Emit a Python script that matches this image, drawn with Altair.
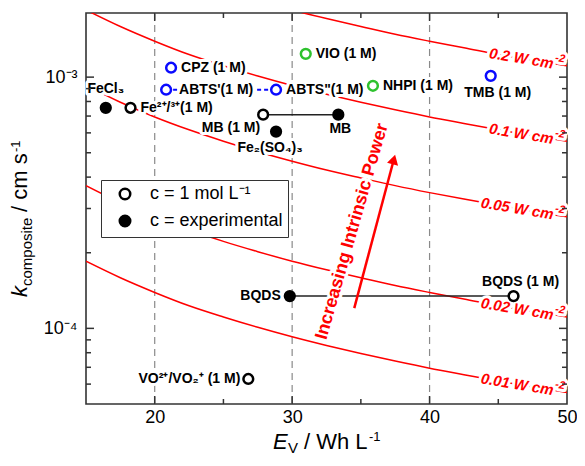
import altair as alt
import pandas as pd

# ---------------- data ----------------
# iso-power curves: k (cm/s) at these E_V values
E_grid = [15, 17.5, 20, 22.5, 25, 27.5, 30, 32.5, 35, 37.5, 40, 42.5, 45, 47.5, 50]
curve_P = ["0.01", "0.02", "0.05", "0.1", "0.2"]
k_001 = [1.85e-4, 1.59e-4, 1.39e-4, 1.23e-4, 1.11e-4, 1.01e-4, 9.26e-5, 8.55e-5, 7.94e-5, 7.41e-5, 6.94e-5, 6.54e-5, 6.17e-5, 5.85e-5, 5.56e-5]
k_002 = [3.70e-4, 3.17e-4, 2.78e-4, 2.47e-4, 2.22e-4, 2.02e-4, 1.85e-4, 1.71e-4, 1.59e-4, 1.48e-4, 1.39e-4, 1.31e-4, 1.23e-4, 1.17e-4, 1.11e-4]
k_005 = [9.26e-4, 7.94e-4, 6.94e-4, 6.17e-4, 5.56e-4, 5.05e-4, 4.63e-4, 4.27e-4, 3.97e-4, 3.70e-4, 3.47e-4, 3.27e-4, 3.09e-4, 2.92e-4, 2.78e-4]
k_010 = [1.85e-3, 1.59e-3, 1.39e-3, 1.23e-3, 1.11e-3, 1.01e-3, 9.26e-4, 8.55e-4, 7.94e-4, 7.41e-4, 6.94e-4, 6.54e-4, 6.17e-4, 5.85e-4, 5.56e-4]
k_020 = [3.70e-3, 3.17e-3, 2.78e-3, 2.47e-3, 2.22e-3, 2.02e-3, 1.85e-3, 1.71e-3, 1.59e-3, 1.48e-3, 1.39e-3, 1.31e-3, 1.23e-3, 1.17e-3, 1.11e-3]
curve_k = [k_001, k_002, k_005, k_010, k_020]
curve_label_text = ["0.01 W cm", "0.02 W cm", "0.05 W cm", "0.1 W cm", "0.2 W cm"]
curve_label_sup = ["-2", "-2", "-2", "-2", "-2"]
curve_label_E = [47.0, 47.0, 47.0, 47.0, 47.0]
curve_label_k = [5.91e-5, 1.18e-4, 2.96e-4, 5.91e-4, 1.18e-3]

# electrolytes
names = ["FeCl3", "Fe2+/3+", "CPZ", "ABTS'", "ABTS''", "MB (1 M)", "MB", "Fe2(SO4)3",
         "VIO", "NHPI", "TMB", "BQDS", "BQDS (1 M)", "VO"]
E_vals = [16.44, 18.24, 21.19, 20.83, 28.83, 27.89, 33.36, 28.83, 30.99, 35.88, 44.45, 29.83, 46.11, 26.81]
k_vals = [7.55e-4, 7.55e-4, 1.09e-3, 8.91e-4, 8.91e-4, 7.09e-4, 7.09e-4, 6.07e-4,
          1.238e-3, 9.24e-4, 1.012e-3, 1.344e-4, 1.344e-4, 6.29e-5]
conc = ["exp", "1M", "1M", "1M", "1M", "1M", "exp", "exp", "1M", "1M", "1M", "exp", "1M", "1M"]
group = ["black", "black", "blue", "blue", "blue", "black", "black", "black",
         "green", "green", "blue", "black", "black", "black"]
labels = ["FeCl₃", "Fe²⁺/³⁺(1 M)", "CPZ (1 M)", "ABTS'(1 M)", 'ABTS"(1 M)', "MB (1 M)", "MB",
          "Fe₂(SO₄)₃", "VIO (1 M)", "NHPI (1 M)", "TMB (1 M)", "BQDS", "BQDS (1 M)", "VO²⁺/VO₂⁺ (1 M)"]
black_pairs = [(5, 6), (11, 12)]
dashed_pairs = [(3, 4)]

legend_names = {"1M": "c = 1 mol L⁻¹", "exp": "c = experimental"}

arrow_E = [34.52, 37.40]
arrow_k = [1.204e-4, 4.70e-4]
arrow_text = "Increasing Intrinsic Power"
arrow_text_E = [34.37]
arrow_text_k = [2.43e-4]

grid_E = [20, 30, 40]
x_major = [20, 30, 40]
x_minor = [25, 35, 45]
y_major = [1e-4, 1e-3]
y_minor = [6e-5, 7e-5, 8e-5, 9e-5, 2e-4, 3e-4, 4e-4, 5e-4, 6e-4, 7e-4, 8e-4, 9e-4]

# ---------------- styles ----------------
W, H = 481, 391
FONT = "Liberation Sans"
RED = "#ff0000"
colmap = {"black": "#000000", "blue": "#0a0aff", "green": "#2ec22e"}
# label offsets (dx, dy, align)
label_style = [(0, -19, "center"), (10, 0, "left"), (10, 0, "left"), (13, 0, "left"), (10, 0, "left"),
               (-3, 13, "right"), (2, 14, "center"), (-6, 16, "center"), (10, 0, "left"),
               (10, 0, "left"), (7, 17, "center"), (-9, 0, "right"), (7, -14, "center"), (-8, 0, "right")]

xs = alt.Scale(domain=[15, 50], nice=False, zero=False)
ys = alt.Scale(type="log", domain=[5e-5, 1.8e-3], nice=False)
xax = alt.Axis(values=[20, 30, 40, 50], title=None, grid=False, ticks=False, tickSize=0, domain=False,
               labelFontSize=18, labelPadding=4, labelColor="black", labelFont=FONT, labelFlush=False)
yax = alt.Axis(values=[1e-4, 1e-3], labelExpr="datum.value < 3e-4 ? '10⁻⁴' : '10⁻³'", title=None,
               grid=False, ticks=False, tickSize=0, domain=False, labelFontSize=18, labelPadding=9,
               labelColor="black", labelFont=FONT)


def X(f):
    return alt.X(f, type="quantitative", scale=xs, axis=xax)


def Y(f):
    return alt.Y(f, type="quantitative", scale=ys, axis=yax)


layers = []

# dashed vertical grid
layers.append(alt.Chart(pd.DataFrame({"E": grid_E})).mark_rule(
    color="#8a8a8a", strokeDash=[7, 5], strokeWidth=1.2).encode(x=X("E")))

# iso-power curves
rows = []
for p, ks in zip(curve_P, curve_k):
    for e, k in zip(E_grid, ks):
        rows.append({"P": p, "E": e, "k": k})
layers.append(alt.Chart(pd.DataFrame(rows)).mark_line(
    color=RED, strokeWidth=1.5, interpolate="monotone", clip=True).encode(
    x=X("E"), y=Y("k"), detail="P:N", order="E:Q"))

# connecting lines
rows = []
for i, (a, b) in enumerate(black_pairs):
    for j in (a, b):
        rows.append({"pair": i, "E": E_vals[j], "k": k_vals[j]})
layers.append(alt.Chart(pd.DataFrame(rows)).mark_line(color="#222222", strokeWidth=1.5).encode(
    x=X("E"), y=Y("k"), detail="pair:N"))
rows = []
for i, (a, b) in enumerate(dashed_pairs):
    for j in (a, b):
        rows.append({"pair": i, "E": E_vals[j], "k": k_vals[j]})
layers.append(alt.Chart(pd.DataFrame(rows)).mark_line(color=colmap["blue"], strokeWidth=2.2,
                                                      strokeDash=[4, 3]).encode(
    x=X("E"), y=Y("k"), detail="pair:N"))

# arrow shaft
layers.append(alt.Chart(pd.DataFrame({"E": arrow_E, "k": arrow_k})).mark_line(
    color=RED, strokeWidth=2.5).encode(x=X("E"), y=Y("k")))

# text layers (halo first, then text)
text_specs = []
for i in range(len(names)):
    dx, dy, al = label_style[i]
    df = pd.DataFrame({"E": [E_vals[i]], "k": [k_vals[i]], "t": [labels[i]]})
    text_specs.append((df, dict(dx=dx, dy=dy, align=al, baseline="middle", fontSize=14,
                                fontWeight="bold", font=FONT), "black"))
cl = pd.DataFrame({"E": curve_label_E, "k": curve_label_k, "t": curve_label_text})
text_specs.append((cl, dict(angle=9.5, align="right", dx=28, baseline="middle", fontSize=15,
                            fontWeight="bold", fontStyle="italic", font=FONT), RED))
cs = pd.DataFrame({"E": curve_label_E, "k": curve_label_k, "t": curve_label_sup})
text_specs.append((cs, dict(angle=9.5, align="left", dx=29, dy=-6, baseline="middle", fontSize=11,
                            fontWeight="bold", fontStyle="italic", font=FONT), RED))
at = pd.DataFrame({"E": arrow_text_E, "k": arrow_text_k, "t": [arrow_text]})
text_specs.append((at, dict(angle=286, align="center", baseline="middle", fontSize=18,
                            fontWeight="bold", font=FONT), RED))

for df, kw, col in text_specs:
    layers.append(alt.Chart(df).mark_text(color="white", stroke="white", strokeWidth=6,
                                          strokeJoin="round", **kw).encode(
        x=X("E"), y=Y("k"), text="t:N"))
for df, kw, col in text_specs:
    layers.append(alt.Chart(df).mark_text(color=col, **kw).encode(
        x=X("E"), y=Y("k"), text="t:N"))

# points
pts = pd.DataFrame({"E": E_vals, "k": k_vals,
                    "conc": [legend_names[c] for c in conc],
                    "col": [colmap[g] for g in group]})
layers.append(alt.Chart(pts).mark_point(filled=True, size=95, strokeWidth=2.5, opacity=1).encode(
    x=X("E"), y=Y("k"),
    fill=alt.Fill("conc:N", scale=alt.Scale(domain=[legend_names["1M"], legend_names["exp"]],
                                            range=["white", "black"]),
                  legend=alt.Legend(title=None, orient="none", legendX=15, legendY=167,
                                    direction="vertical", strokeColor="#333333", fillColor="white",
                                    padding=5, symbolOffset=10, labelOffset=16, labelFontSize=18,
                                    labelFont=FONT, labelColor="black", symbolType="circle",
                                    symbolSize=110, symbolStrokeColor="black",
                                    symbolStrokeWidth=2.5, rowPadding=5, labelLimit=300)),
    stroke=alt.Stroke("col:N", scale=None)))

# arrow head
layers.append(alt.Chart(pd.DataFrame({"E": arrow_E[-1:], "k": arrow_k[-1:]})).mark_point(
    shape="triangle-up", filled=True, color=RED, size=130, angle=15, opacity=1).encode(
    x=X("E"), y=Y("k")))

# inward ticks
TK = "#333333"
for vals, ln in ((x_major, 8), (x_minor, 5)):
    d = pd.DataFrame({"E": vals})
    layers.append(alt.Chart(d).mark_rule(color=TK, strokeWidth=1.5).encode(
        x=X("E"), y=alt.value(H), y2=alt.value(H - ln)))
    layers.append(alt.Chart(d).mark_rule(color=TK, strokeWidth=1.5).encode(
        x=X("E"), y=alt.value(0), y2=alt.value(ln)))
for vals, ln in ((y_major, 8), (y_minor, 5)):
    d = pd.DataFrame({"k": vals})
    layers.append(alt.Chart(d).mark_rule(color=TK, strokeWidth=1.5).encode(
        y=Y("k"), x=alt.value(0), x2=alt.value(ln)))
    layers.append(alt.Chart(d).mark_rule(color=TK, strokeWidth=1.5).encode(
        y=Y("k"), x=alt.value(W), x2=alt.value(W - ln)))

# axis titles built from pieces (italic symbol, subscript, superscript)
dummy = pd.DataFrame({"a": [0]})


def piece(txt, x, y, size, angle=0, italic=False):
    kw = dict(text=txt, align="left", baseline="alphabetic", fontSize=size, font=FONT, color="black")
    if angle:
        kw["angle"] = angle
    if italic:
        kw["fontStyle"] = "italic"
    return alt.Chart(dummy).mark_text(**kw).encode(x=alt.value(x), y=alt.value(y))


layers += [
    piece("k", -59, 284, 22, 270, True),
    piece("composite", -54, 273, 15, 270),
    piece("/ cm s", -59, 199, 22, 270),
    piece("-1", -66, 139, 13, 270),
    piece("E", 187, 436, 22, 0, True),
    piece("V", 202, 440, 15),
    piece("/ Wh L", 218, 436, 22),
    piece("-1", 283, 428, 13),
]

chart = alt.layer(*layers).properties(
    width=W, height=H,
    autosize=alt.AutoSizeParams(type="none"),
    padding={"left": 78, "top": 5, "right": 10, "bottom": 52},
).configure(font=FONT).configure_view(stroke="#333333", strokeWidth=1.6)

chart.save("out.html", embed_options={"renderer": "svg", "actions": False})
